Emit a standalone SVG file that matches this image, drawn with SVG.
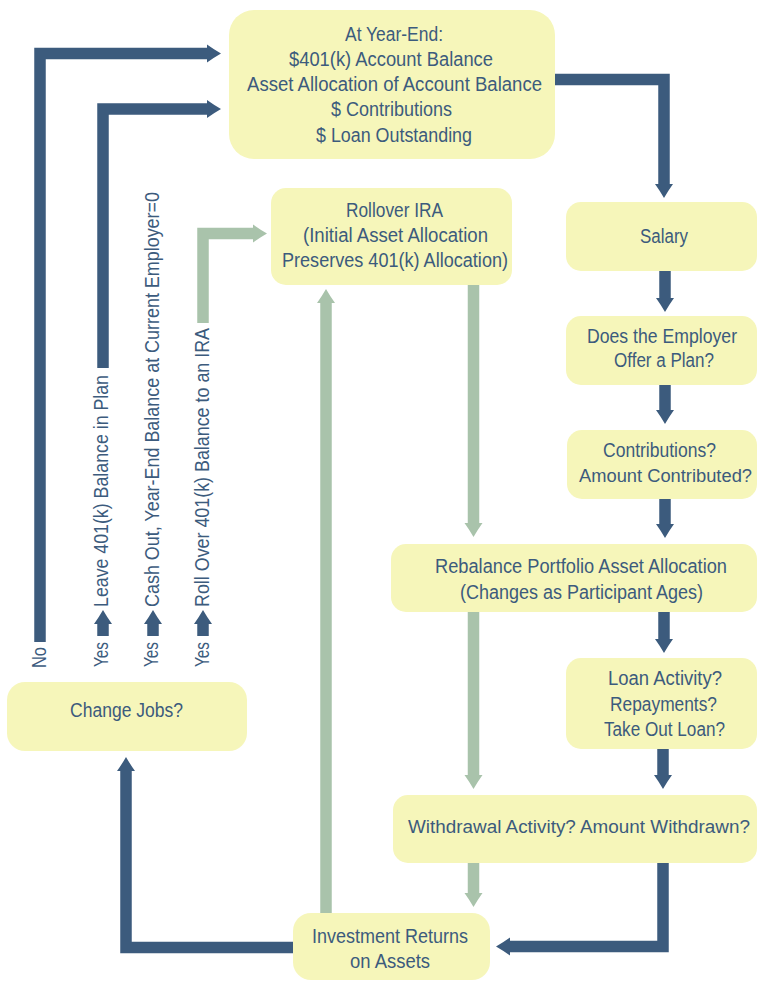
<svg xmlns="http://www.w3.org/2000/svg" width="758" height="981" viewBox="0 0 758 981">
<style>
.box{fill:#F6F6BA}
.t{font-family:"Liberation Sans",Arial,sans-serif;font-size:20px;fill:#3C5B7D}
.d{fill:none;stroke:#3C5B7D;stroke-width:11.5;stroke-linejoin:miter;marker-end:url(#ahD)}
.g{fill:none;stroke:#A9C3AB;stroke-width:11.5;stroke-linejoin:miter;marker-end:url(#ahG)}
</style>
<defs>
<marker id="ahD" markerUnits="userSpaceOnUse" markerWidth="16" markerHeight="20" viewBox="0 -10 16 20" refX="3" refY="0" orient="auto" overflow="visible">
<path d="M0,-9 Q7,-4 14,0 Q7,4 0,9 Z" fill="#3C5B7D"/>
</marker>
<marker id="ahG" markerUnits="userSpaceOnUse" markerWidth="16" markerHeight="20" viewBox="0 -10 16 20" refX="3" refY="0" orient="auto" overflow="visible">
<path d="M0,-9 Q7,-4 14,0 Q7,4 0,9 Z" fill="#A9C3AB"/>
</marker>
</defs>
<rect width="758" height="981" fill="#FFFFFF"/>

<g id="connectors">
<path class="d" d="M550,79.5 H664 V187"/>
<path class="d" d="M665,268 V301"/>
<path class="d" d="M665,382 V413"/>
<path class="d" d="M665,496 V527"/>
<path class="d" d="M664,609 V642"/>
<path class="d" d="M663,746 V778"/>
<path class="d" d="M663,860 V946.5 H507"/>
<path class="d" d="M298,947.5 H126 V768"/>
<path class="d" d="M40,642 V53.5 H210"/>
<path class="d" d="M103,368 V109 H210"/>
<path class="g" d="M203,323 V233.5 H256"/>
<path class="g" d="M326,918 V300"/>
<path class="g" d="M473.5,280 V526"/>
<path class="g" d="M473.5,607 V778"/>
<path class="g" d="M473.5,860 V896"/>
<path class="d" d="M103,636 V621"/>
<path class="d" d="M153,636 V621"/>
<path class="d" d="M203,636 V621"/>
</g>

<g id="labels" class="t">
<text transform="translate(46,668) rotate(-90)" textLength="21" lengthAdjust="spacingAndGlyphs">No</text>
<text transform="translate(108,667) rotate(-90)" textLength="25" lengthAdjust="spacingAndGlyphs">Yes</text>
<text transform="translate(158,667) rotate(-90)" textLength="25" lengthAdjust="spacingAndGlyphs">Yes</text>
<text transform="translate(209,667) rotate(-90)" textLength="25" lengthAdjust="spacingAndGlyphs">Yes</text>
<text transform="translate(108,607) rotate(-90)" textLength="232" lengthAdjust="spacingAndGlyphs">Leave 401(k) Balance in Plan</text>
<text transform="translate(159,607) rotate(-90)" textLength="415" lengthAdjust="spacingAndGlyphs">Cash Out, Year-End Balance at Current Employer=0</text>
<text transform="translate(209,607) rotate(-90)" textLength="279" lengthAdjust="spacingAndGlyphs">Roll Over 401(k) Balance to an IRA</text>
</g>

<g id="year-end">
<rect class="box" x="229" y="10" width="326" height="149" rx="25"/>
<text class="t" x="345" y="40.5" textLength="98" lengthAdjust="spacingAndGlyphs">At Year-End:</text>
<text class="t" x="289" y="65.8" textLength="204" lengthAdjust="spacingAndGlyphs">$401(k) Account Balance</text>
<text class="t" x="247" y="91" textLength="295" lengthAdjust="spacingAndGlyphs">Asset Allocation of Account Balance</text>
<text class="t" x="331" y="116.3" textLength="121" lengthAdjust="spacingAndGlyphs">$ Contributions</text>
<text class="t" x="316" y="141.5" textLength="156" lengthAdjust="spacingAndGlyphs">$ Loan Outstanding</text>
</g>

<g id="rollover-ira">
<rect class="box" x="271" y="188" width="241" height="97" rx="15"/>
<text class="t" x="346" y="216.7" textLength="97" lengthAdjust="spacingAndGlyphs">Rollover IRA</text>
<text class="t" x="303" y="241.7" textLength="185" lengthAdjust="spacingAndGlyphs">(Initial Asset Allocation</text>
<text class="t" x="282" y="266.7" textLength="226" lengthAdjust="spacingAndGlyphs">Preserves 401(k) Allocation)</text>
</g>

<g id="salary">
<rect class="box" x="566" y="202" width="191" height="69" rx="15"/>
<text class="t" x="640" y="243" textLength="48" lengthAdjust="spacingAndGlyphs">Salary</text>
</g>

<g id="employer-plan">
<rect class="box" x="566" y="316" width="191" height="69" rx="15"/>
<text class="t" x="587" y="342.7" textLength="150" lengthAdjust="spacingAndGlyphs">Does the Employer</text>
<text class="t" x="614" y="367.3" textLength="100" lengthAdjust="spacingAndGlyphs">Offer a Plan?</text>
</g>

<g id="contributions">
<rect class="box" x="567" y="430" width="190" height="69" rx="15"/>
<text class="t" x="603" y="456.7" textLength="113" lengthAdjust="spacingAndGlyphs">Contributions?</text>
<text class="t" x="579" y="482" style="font-size:18.3px" textLength="173" lengthAdjust="spacingAndGlyphs">Amount Contributed?</text>
</g>

<g id="rebalance">
<rect class="box" x="391" y="544" width="366" height="68" rx="15"/>
<text class="t" x="435" y="573.3" textLength="292" lengthAdjust="spacingAndGlyphs">Rebalance Portfolio Asset Allocation</text>
<text class="t" x="460" y="598.5" textLength="243" lengthAdjust="spacingAndGlyphs">(Changes as Participant Ages)</text>
</g>

<g id="loan-activity">
<rect class="box" x="566" y="658" width="191" height="91" rx="15"/>
<text class="t" x="608" y="685" textLength="114" lengthAdjust="spacingAndGlyphs">Loan Activity?</text>
<text class="t" x="610" y="710.5" textLength="107" lengthAdjust="spacingAndGlyphs">Repayments?</text>
<text class="t" x="604" y="735.7" textLength="121" lengthAdjust="spacingAndGlyphs">Take Out Loan?</text>
</g>

<g id="withdrawal">
<rect class="box" x="393" y="795" width="364" height="68" rx="15"/>
<text class="t" x="408" y="833.3" style="font-size:18.7px" textLength="342" lengthAdjust="spacingAndGlyphs">Withdrawal Activity? Amount Withdrawn?</text>
</g>

<g id="change-jobs">
<rect class="box" x="7" y="682" width="240" height="69" rx="18"/>
<text class="t" x="70" y="716.7" textLength="113" lengthAdjust="spacingAndGlyphs">Change Jobs?</text>
</g>

<g id="investment-returns">
<rect class="box" x="293" y="913" width="197" height="67" rx="18"/>
<text class="t" x="312" y="943.3" textLength="156" lengthAdjust="spacingAndGlyphs">Investment Returns</text>
<text class="t" x="350" y="968.3" textLength="80" lengthAdjust="spacingAndGlyphs">on Assets</text>
</g>
</svg>
